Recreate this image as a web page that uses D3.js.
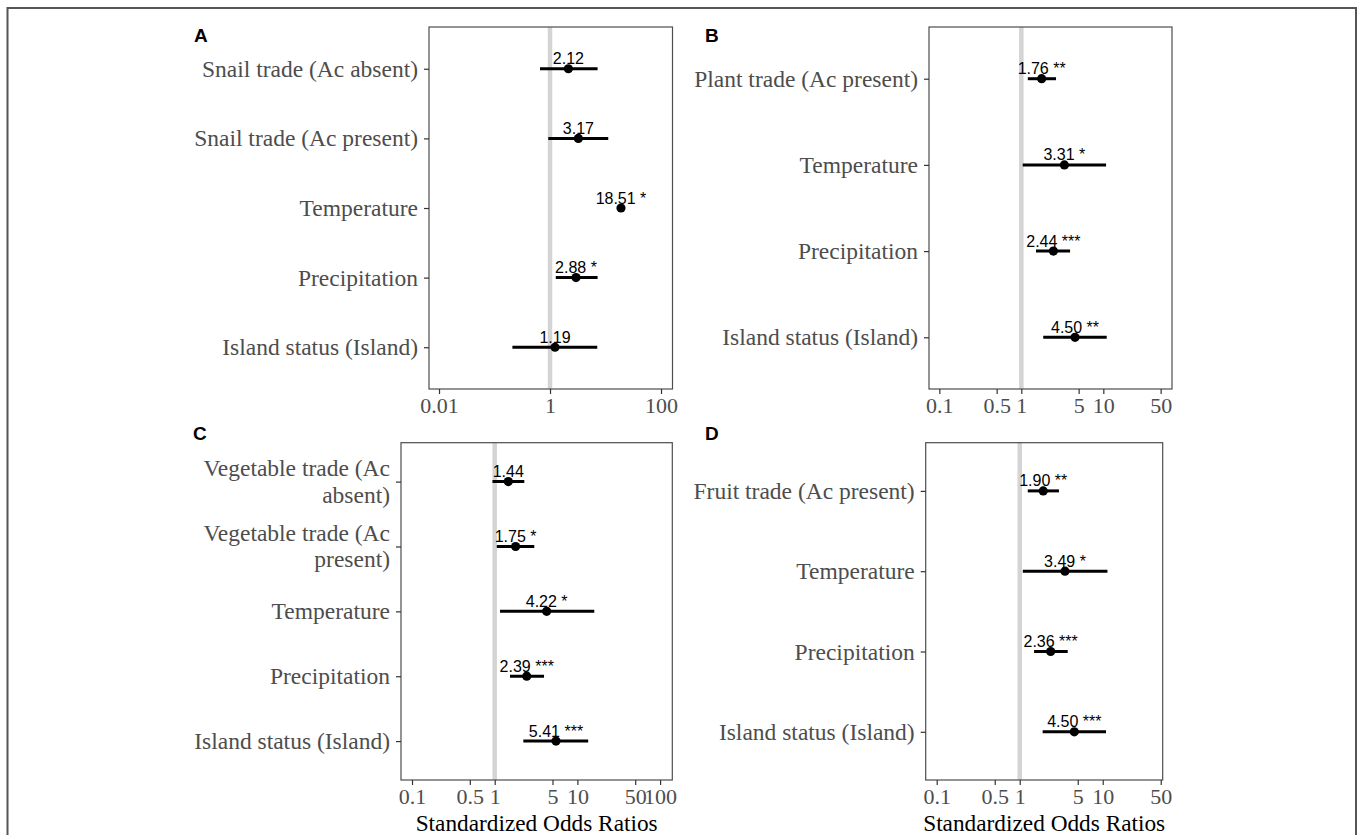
<!DOCTYPE html>
<html>
<head>
<meta charset="utf-8">
<script src="https://cdn.jsdelivr.net/npm/d3@7"></script>
<style>
  body { margin: 0; background: #fff; }
</style>
</head>
<body>
<div id="wrapper"></div>
<script>
// A: snail trade
const termsA = ["Snail trade (Ac absent)", "Snail trade (Ac present)", "Temperature", "Precipitation", "Island status (Island)"];
const estA = [2.14, 3.24, 19.0, 2.94, 1.23];
const lowA = [0.66, 0.93, null, 1.27, 0.21];
const highA = [7.2, 11.2, null, 7.2, 7.1];
const labelsA = ["2.12", "3.17", "18.51 *", "2.88 *", "1.19"];
const ticksA = [0.01, 1, 100];

// B: plant trade
const termsB = ["Plant trade (Ac present)", "Temperature", "Precipitation", "Island status (Island)"];
const estB = [1.77, 3.35, 2.46, 4.52];
const lowB = [1.20, 1.04, 1.51, 1.85];
const highB = [2.65, 10.8, 3.93, 11.0];
const labelsB = ["1.76 **", "3.31 *", "2.44 ***", "4.50 **"];
const ticksB = [0.1, 0.5, 1, 5, 10, 50];

// C: vegetable trade
const termsC = ["Vegetable trade (Ac|absent)", "Vegetable trade (Ac|present)", "Temperature", "Precipitation", "Island status (Island)"];
const estC = [1.46, 1.79, 4.25, 2.44, 5.51];
const lowC = [0.94, 1.06, 1.16, 1.53, 2.22];
const highC = [2.28, 3.01, 16.0, 3.95, 13.5];
const labelsC = ["1.44", "1.75 *", "4.22 *", "2.39 ***", "5.41 ***"];
const ticksC = [0.1, 0.5, 1, 5, 10, 50, 100];

// D: fruit trade
const termsD = ["Fruit trade (Ac present)", "Temperature", "Precipitation", "Island status (Island)"];
const estD = [1.92, 3.51, 2.36, 4.55];
const lowD = [1.25, 1.09, 1.49, 1.89];
const highD = [2.97, 11.4, 3.79, 10.96];
const labelsD = ["1.90 **", "3.49 *", "2.36 ***", "4.50 ***"];
const ticksD = [0.1, 0.5, 1, 5, 10, 50];

const W = 1358, H = 835;

const svg = d3.select("#wrapper")
    .append("svg")
    .attr("width", W)
    .attr("height", H)
    .style("display", "block");

svg.append("rect")
    .attr("x", 7.5).attr("y", 8)
    .attr("width", 1348.5).attr("height", 840)
    .attr("fill", "none")
    .attr("stroke", "#555")
    .attr("stroke-width", 2);

function drawPanel(p) {
    const x = d3.scaleLog().domain(p.domain).range([p.left, p.right]);
    const y = d3.scalePoint().domain(p.terms).range([p.top, p.bottom]).padding(0.6);
    const g = svg.append("g");

    // reference line at OR = 1
    g.append("line")
        .attr("x1", x(1)).attr("x2", x(1))
        .attr("y1", p.top).attr("y2", p.bottom)
        .attr("stroke", "#d4d4d4")
        .attr("stroke-width", 4.5);

    const rows = p.terms.map((t, i) => ({
        term: t, est: p.est[i], lo: p.low[i], hi: p.high[i], label: p.labels[i]
    }));

    g.selectAll(".ci")
        .data(rows.filter(d => d.lo != null))
        .enter()
        .append("line")
        .attr("x1", d => x(d.lo))
        .attr("x2", d => x(d.hi))
        .attr("y1", d => y(d.term))
        .attr("y2", d => y(d.term))
        .attr("stroke", "#000")
        .attr("stroke-width", 3);

    g.selectAll(".pt")
        .data(rows)
        .enter()
        .append("circle")
        .attr("cx", d => x(d.est))
        .attr("cy", d => y(d.term))
        .attr("r", 4.6)
        .attr("fill", "#000");

    g.selectAll(".val")
        .data(rows)
        .enter()
        .append("text")
        .attr("x", d => x(d.est))
        .attr("y", d => y(d.term) - 4.5)
        .attr("text-anchor", "middle")
        .style("font-family", "'Liberation Sans', Arial, sans-serif")
        .style("font-size", "16px")
        .style("fill", "#000")
        .text(d => d.label);

    // panel border
    g.append("rect")
        .attr("x", p.left).attr("y", p.top)
        .attr("width", p.right - p.left)
        .attr("height", p.bottom - p.top)
        .attr("fill", "none")
        .attr("stroke", "#4d4d4d")
        .attr("stroke-width", 1.2);

    const xAxis = g.append("g")
        .attr("transform", `translate(0,${p.bottom})`)
        .call(d3.axisBottom(x).tickValues(p.ticks).tickFormat(d => String(d)).tickSize(5).tickPadding(3));

    const yAxis = g.append("g")
        .attr("transform", `translate(${p.left},0)`)
        .call(d3.axisLeft(y).tickSize(5).tickPadding(6));

    [xAxis, yAxis].forEach(a => {
        a.select(".domain").remove();
        a.selectAll(".tick line").attr("stroke", "#333").attr("stroke-width", 1.2);
        a.selectAll(".tick text")
            .style("font-family", "'Liberation Serif', 'Times New Roman', serif")
            .style("fill", "#4d4d4d");
    });
    xAxis.selectAll(".tick text").style("font-size", "22px");
    yAxis.selectAll(".tick text")
        .style("font-size", "23.5px")
        .attr("dy", null)
        .attr("y", 7.5)
        .each(function(d) {
            const parts = d.split("|");
            if (parts.length > 1) {
                const t = d3.select(this).text(null).attr("y", null);
                parts.forEach((s, i) => {
                    t.append("tspan")
                        .attr("x", -11)
                        .attr("y", i === 0 ? -6 : 20.5)
                        .text(s);
                });
            }
        });

    svg.append("text")
        .attr("x", p.letterX).attr("y", p.letterY)
        .style("font-family", "'Liberation Sans', Arial, sans-serif")
        .style("font-weight", "bold")
        .style("font-size", "19px")
        .style("fill", "#000")
        .text(p.letter);

    if (p.title) {
        svg.append("text")
            .attr("x", (p.left + p.right) / 2)
            .attr("y", 831)
            .attr("text-anchor", "middle")
            .style("font-family", "'Liberation Serif', 'Times New Roman', serif")
            .style("font-size", "23.3px")
            .style("fill", "#000")
            .text("Standardized Odds Ratios");
    }
}

drawPanel({letter: "A", letterX: 194, letterY: 42, left: 429, right: 672.5, top: 27, bottom: 389,
    domain: [0.0066, 161], terms: termsA, est: estA, low: lowA, high: highA, labels: labelsA, ticks: ticksA});
drawPanel({letter: "B", letterX: 705, letterY: 42, left: 929, right: 1172, top: 27, bottom: 389,
    domain: [0.0748, 68.8], terms: termsB, est: estB, low: lowB, high: highB, labels: labelsB, ticks: ticksB});
drawPanel({letter: "C", letterX: 193, letterY: 440, left: 401, right: 672.3, top: 442.7, bottom: 780,
    domain: [0.0736, 140.5], terms: termsC, est: estC, low: lowC, high: highC, labels: labelsC, ticks: ticksC, title: true});
drawPanel({letter: "D", letterX: 705, letterY: 440, left: 925.7, right: 1162.7, top: 442.7, bottom: 780,
    domain: [0.0737, 52.8], terms: termsD, est: estD, low: lowD, high: highD, labels: labelsD, ticks: ticksD, title: true});
</script>
</body>
</html>
